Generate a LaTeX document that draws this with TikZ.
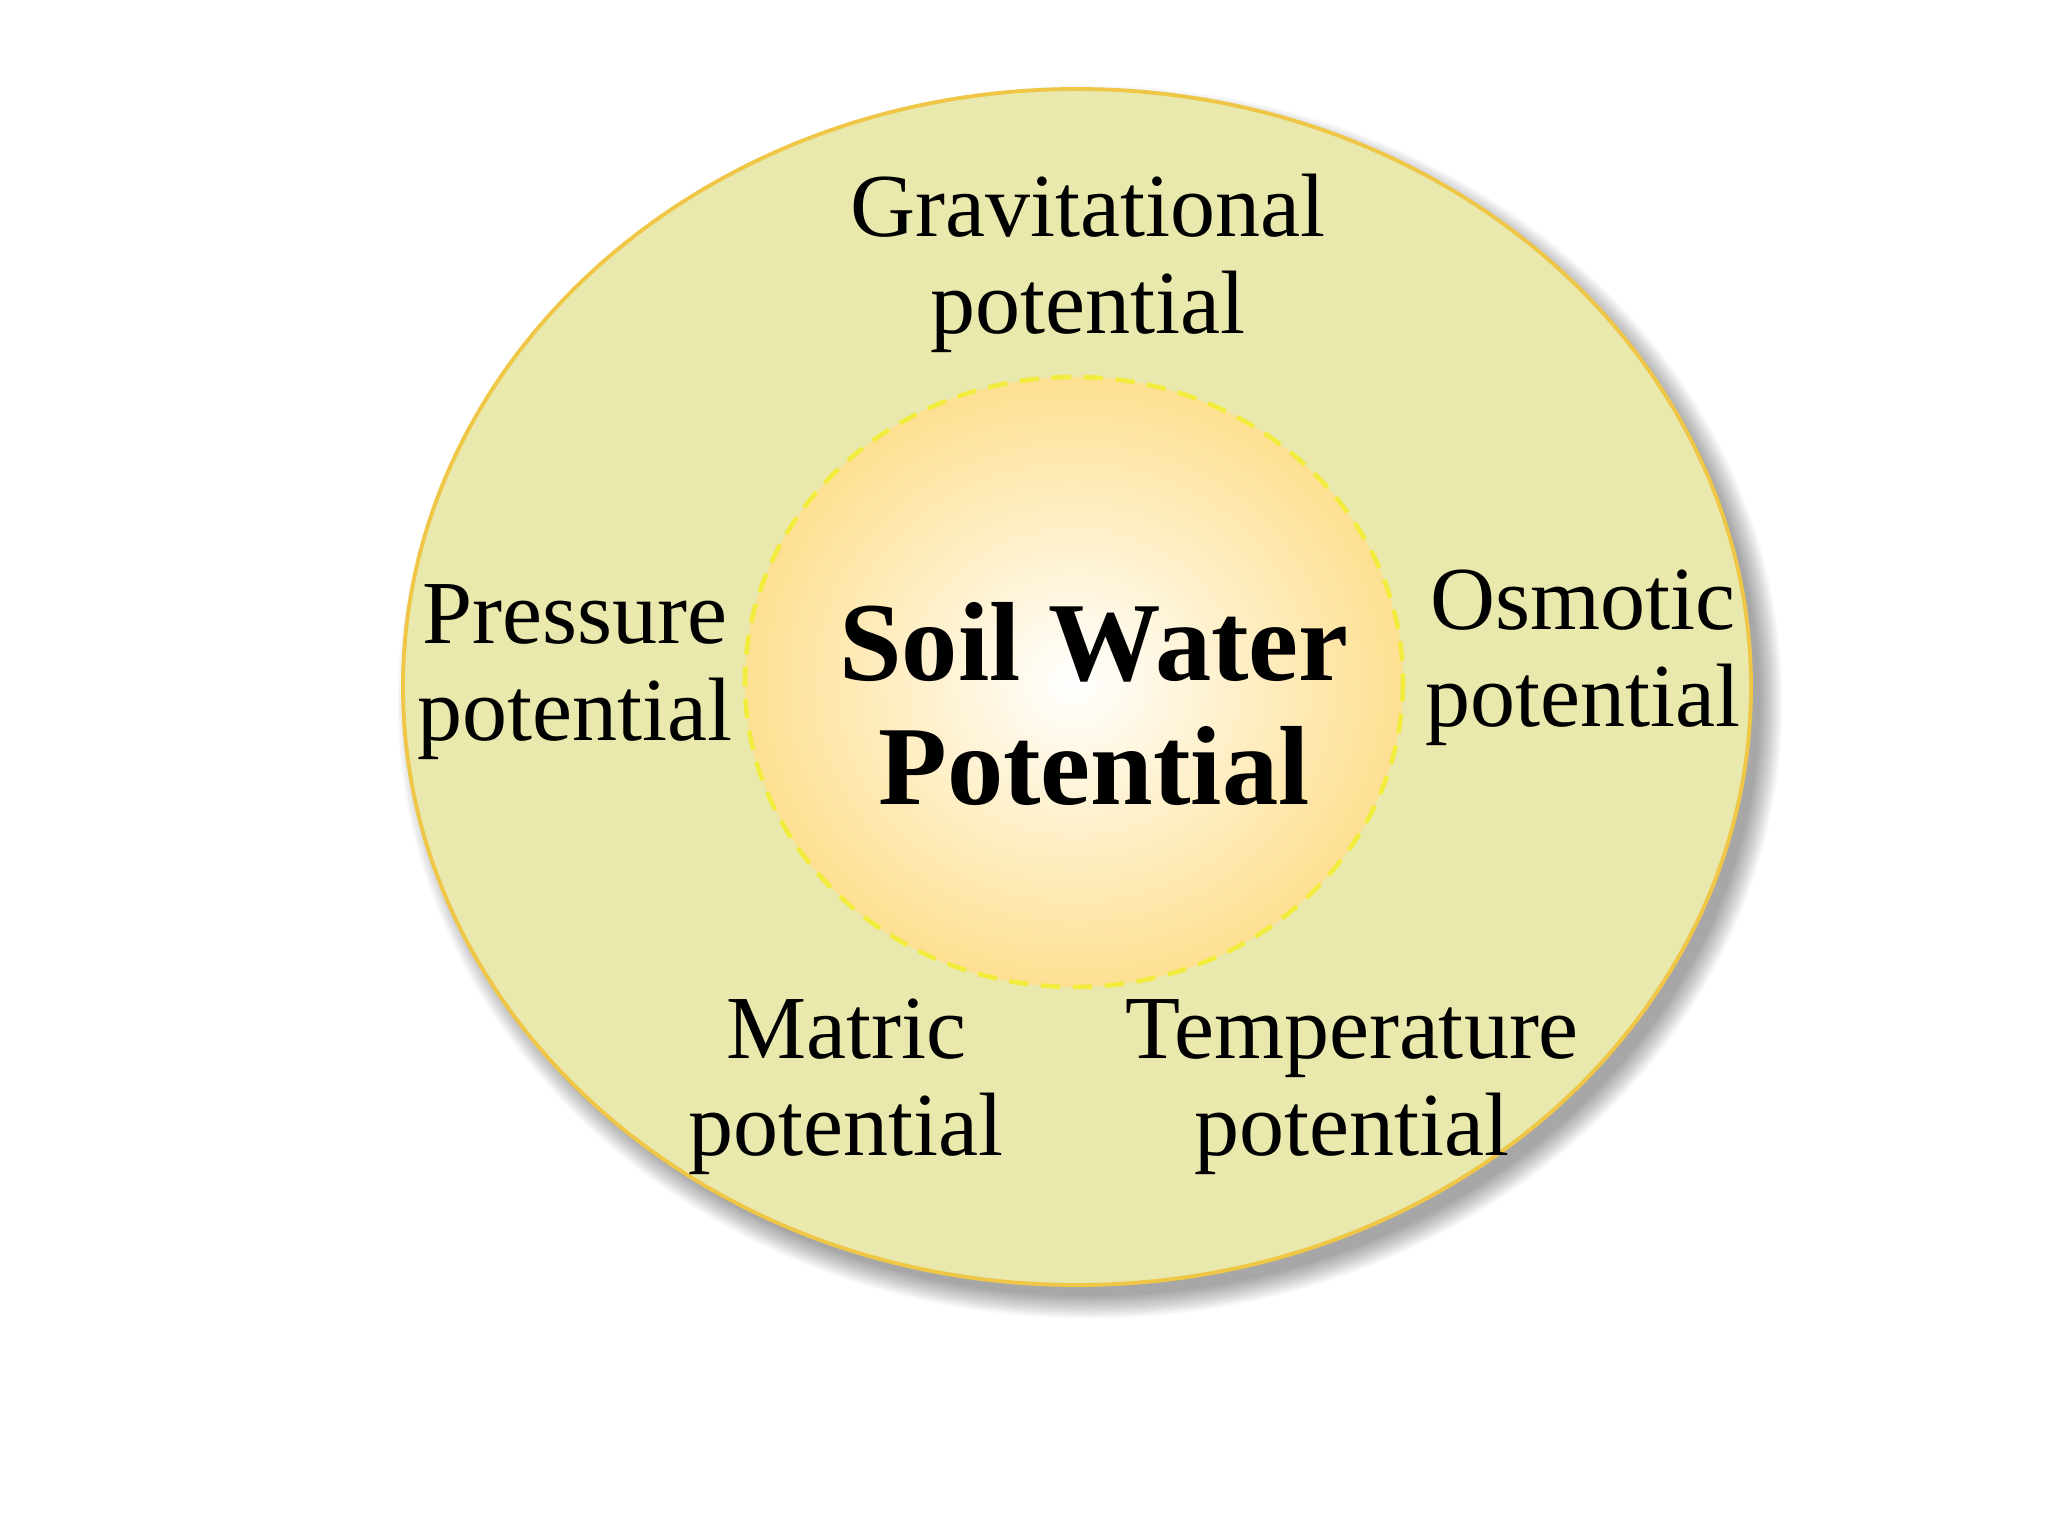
\documentclass[tikz,border=0pt]{standalone}
\usepackage{fontspec}
\setmainfont{Liberation Serif}
\usetikzlibrary{calc}

\definecolor{paleolive}{RGB}{233,232,173}
\definecolor{rimgold}{RGB}{240,198,70}
\definecolor{dashyellow}{RGB}{242,236,60}
\definecolor{inglow}{RGB}{253,220,132}
\definecolor{inrim}{RGB}{254,234,170}

\pgfdeclareradialshading{sunglow}{\pgfpoint{0bp}{0bp}}{color(0bp)=(white); color(7bp)=(white!75!inglow); color(28bp)=(inglow); color(44bp)=(inglow); color(50bp)=(inrim); color(60bp)=(inrim)}

\begin{document}
\begin{tikzpicture}[x=0.01cm,y=-0.01cm]

\tikzset{lbl/.style={align=center, font=\fontsize{25.6}{27.5}\selectfont, inner sep=0pt},
title/.style={align=center, font=\fontsize{32}{35}\selectfont\bfseries, inner sep=0pt}}

\useasboundingbox (0,0) rectangle (2048,1536);
\fill[white] (0,0) rectangle (2048,1536);

%soft shadow below right
\foreach \i in {0,...,15}
    \fill[black,opacity=0.025] (1090,702) ellipse ({670+\i*1.5} and {594+\i*1.5});

\draw[line width=1.1pt,draw=rimgold,fill=paleolive] (1077,687) ellipse (674 and 598);

%the glowing core
\shade[shading=sunglow] (1074,682) ellipse (329 and 305);
\draw[line width=1.3pt,draw=dashyellow,dash pattern=on 5.5pt off 3.6pt] (1074,682) ellipse (329 and 305);

\draw (1094,704) node[title] (core) {Soil Water\\Potential};

\draw (1088,263) node[lbl] (grav) {Gravitational\\potential};
\draw (575,672) node[lbl] (press) {Pressure\\potential};
\draw (1583,658) node[lbl] (osmo) {Osmotic\\potential};
\draw (846,1087) node[lbl] (matric) {Matric\\potential};
\draw (1352,1087) node[lbl] (temp) {Temperature\\potential};

\end{tikzpicture}
\end{document}
